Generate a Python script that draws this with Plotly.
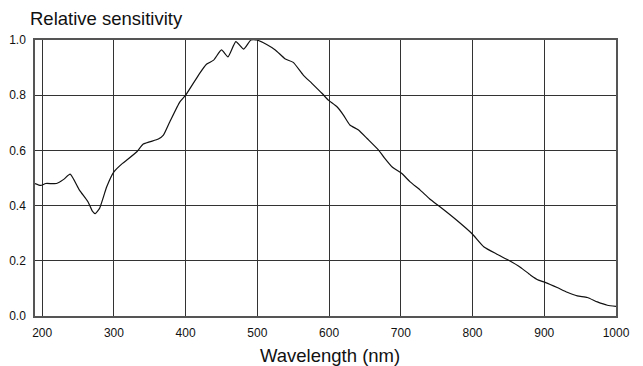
import plotly.graph_objects as go

wavelength = [190, 198, 205, 220, 230, 239, 252, 264, 270, 274, 280, 290, 300, 312, 318,
              332, 341, 362, 369, 378, 392, 400, 418, 429, 439, 450, 459, 470, 481, 491,
              499, 513, 525, 539, 550, 564, 576, 590, 599, 611, 620, 629, 641, 653, 669,
              676, 688, 701, 713, 727, 740, 755, 778, 799, 816, 834, 851, 867, 881, 892,
              902, 918, 932, 946, 960, 974, 988, 1000]
sensitivity = [0.480, 0.473, 0.480, 0.480, 0.495, 0.514, 0.456, 0.413, 0.380, 0.371, 0.390,
               0.468, 0.522, 0.553, 0.565, 0.595, 0.623, 0.641, 0.655, 0.704, 0.776, 0.800,
               0.873, 0.912, 0.927, 0.964, 0.939, 0.994, 0.967, 1.000, 1.000, 0.984, 0.964,
               0.931, 0.919, 0.873, 0.843, 0.807, 0.782, 0.758, 0.728, 0.692, 0.674, 0.643,
               0.601, 0.577, 0.540, 0.517, 0.486, 0.456, 0.425, 0.395, 0.347, 0.299, 0.250,
               0.224, 0.201, 0.176, 0.148, 0.130, 0.121, 0.103, 0.086, 0.073, 0.067, 0.051,
               0.039, 0.035]

x_ticks = [200, 300, 400, 500, 600, 700, 800, 900, 1000]
y_ticks = [0.0, 0.2, 0.4, 0.6, 0.8, 1.0]
y_tick_text = ["0.0", "0.2", "0.4", "0.6", "0.8", "1.0"]

FONT = "Liberation Sans, Arial, sans-serif"

fig = go.Figure()
fig.add_trace(go.Scatter(
    x=wavelength, y=sensitivity, mode="lines",
    line=dict(color="#111111", width=1.2, shape="spline", smoothing=0.5),
    hoverinfo="skip", showlegend=False,
))

fig.update_layout(
    width=643, height=366,
    margin=dict(l=35, r=27, t=40, b=50),
    paper_bgcolor="white", plot_bgcolor="white",
    font=dict(family=FONT, color="#111111"),
    xaxis=dict(
        range=[190, 1000], tickvals=x_ticks, ticks="", showgrid=True,
        gridcolor="#333333", gridwidth=1, showline=True, linecolor="#555555",
        linewidth=1.5, mirror=True, zeroline=False, ticklabelstandoff=5,
        automargin=False,
        tickfont=dict(size=12, family=FONT, color="#111111"),
    ),
    yaxis=dict(
        range=[0, 1.0], tickvals=y_ticks, ticktext=y_tick_text, ticks="",
        showgrid=True, gridcolor="#333333", gridwidth=1, showline=True,
        linecolor="#555555", linewidth=1.5, mirror=True, zeroline=False,
        ticklabelstandoff=5, automargin=False,
        tickfont=dict(size=12, family=FONT, color="#111111"),
    ),
    annotations=[
        dict(text="Relative sensitivity", xref="paper", yref="paper",
             x=-0.0069, y=1.0, xanchor="left", yanchor="bottom", yshift=9,
             xshift=-3,
             showarrow=False, font=dict(size=18.5, family=FONT, color="#111111")),
        dict(text="Wavelength (nm)", xref="paper", yref="paper",
             x=0.5075, y=0, xanchor="center", yanchor="top", yshift=-27,
             showarrow=False, font=dict(size=18.5, family=FONT, color="#111111")),
    ],
)

fig.write_html(
    "out.html",
    config={"displayModeBar": False},
    post_script="document.body.style.margin='0';document.body.style.overflow='hidden';",
)
